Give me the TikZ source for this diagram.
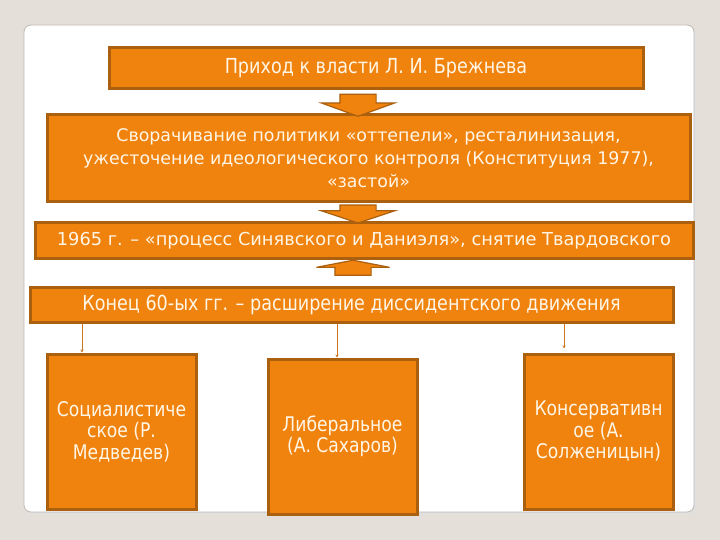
\documentclass[tikz,border=0pt]{standalone}
\usepackage{fontspec}
\setmainfont{DejaVu Sans}
\newfontfamily\narrowfont[FakeStretch=0.85]{DejaVu Sans}
\usetikzlibrary{shapes.arrows,arrows.meta,positioning}
\definecolor{pagebg}{RGB}{228,223,216}
\definecolor{panelline}{RGB}{190,184,176}
\definecolor{boxfill}{RGB}{240,130,14}
\definecolor{boxline}{RGB}{170,96,14}
\definecolor{boxtext}{RGB}{255,246,230}
\definecolor{linkcol}{RGB}{205,118,32}
\tikzset{
  stage/.style={rectangle,draw=boxline,line width=3pt,fill=boxfill,text=boxtext,
              align=center,inner sep=0pt},
  trend/.style={stage,minimum width=149pt,minimum height=155pt,
              font=\narrowfont\fontsize{20.2}{21.5}\selectfont},
  fat/.style={single arrow,draw=boxline,line width=1.2pt,fill=boxfill,
              inner xsep=0pt,inner ysep=17.5pt,single arrow head extend=18.5pt},
  link/.style={-{Stealth[length=3pt,width=3pt]},draw=linkcol,line width=1pt},
}
\begin{document}
\begin{tikzpicture}[x=1pt,y=-1pt]
  % page and panel
  \fill[pagebg] (0,0) rectangle (720,540);
  \fill[black!12,rounded corners=7pt] (26,27) rectangle (696,514);
  \filldraw[fill=white,draw=panelline,line width=0.8pt,rounded corners=7pt] (24,25) rectangle (694,512);

  \node[stage,minimum width=534pt,minimum height=41pt,
        font=\narrowfont\fontsize{20.7}{22}\selectfont] (rise) at (376,68.5) {Приход к власти Л. И. Брежнева};
  \node[stage,minimum width=643pt,minimum height=87pt,
        font=\fontsize{17.4}{23}\selectfont] (turn) at (368.5,158.5)
        {Сворачивание политики «оттепели», ресталинизация,\\ужесточение идеологического контроля (Конституция 1977),\\«застой»};
  \node[stage,minimum width=658pt,minimum height=35pt,
        font=\fontsize{17.8}{20}\selectfont] (trial) at (364,240.5)
        {1965 г. – «процесс Синявского и Даниэля», снятие Твардовского};
  \node[stage,minimum width=643pt,minimum height=35pt,
        font=\narrowfont\fontsize{20.7}{22}\selectfont] (dissent) at (351.5,304.5)
        {Конец 60-ых гг. – расширение диссидентского движения};

  \node[trend] (socl) at (121.5,431.5) {Социалистиче\\ское (Р.\\Медведев)};
  \node[trend] (libr) at (342.5,436.5) {Либеральное\\(А. Сахаров)};
  \node[trend] (cons) at (598.5,431.5) {Консервативн\\ое (А.\\Солженицын)};

  % block arrows
  \node[fat,rotate=-90,minimum height=22pt,single arrow tip angle=140] (down1) at (358,102) {};
  \node[fat,rotate=-90,minimum height=18pt,single arrow tip angle=143] (down2) at (358,211) {};
  \node[fat,rotate=90,minimum height=15pt,single arrow tip angle=158] (up3) at (353,269.5) {};

  \draw[link] (dissent.south -| 82,0) -- (socl.north -| 82,0);
  \draw[link] (dissent.south -| 337,0) -- (libr.north -| 337,0);
  \draw[link,shorten >=4pt] (dissent.south -| 564,0) -- (cons.north -| 564,0);
\end{tikzpicture}
\end{document}
